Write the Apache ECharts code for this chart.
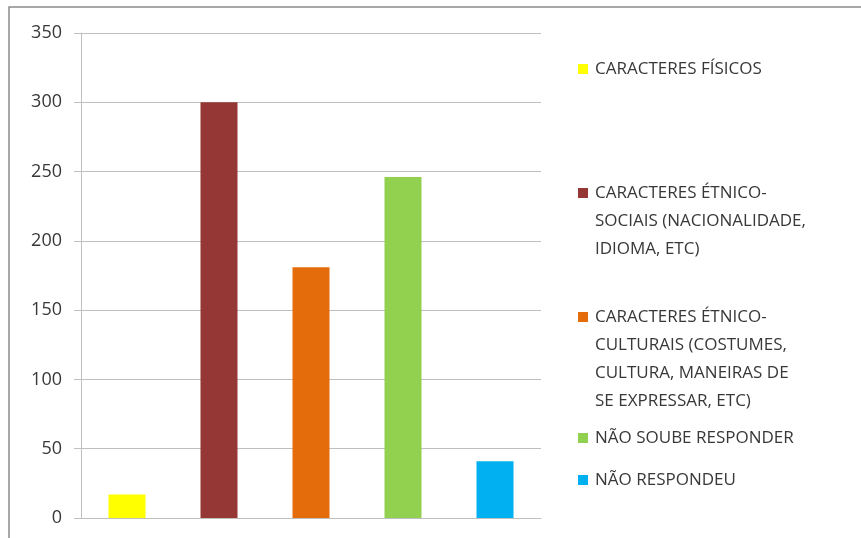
<!DOCTYPE html>
<html>
<head>
<meta charset="utf-8">
<script src="https://cdn.jsdelivr.net/npm/echarts@6/dist/echarts.min.js"></script>
<style>
  html, body { margin: 0; padding: 0; background: #fff; }
  #chart { width: 861px; height: 538px; }
</style>
</head>
<body>
<div id="chart"></div>
<script>
// categorias e valores
const categories = [
    'CARACTERES FÍSICOS',
    'CARACTERES ÉTNICO-SOCIAIS (NACIONALIDADE, IDIOMA, ETC)',
    'CARACTERES ÉTNICO-CULTURAIS (COSTUMES, CULTURA, MANEIRAS DE SE EXPRESSAR, ETC)',
    'NÃO SOUBE RESPONDER',
    'NÃO RESPONDEU'
];
const legendLines = [
    ['CARACTERES FÍSICOS'],
    ['CARACTERES ÉTNICO-', 'SOCIAIS (NACIONALIDADE,', 'IDIOMA, ETC)'],
    ['CARACTERES ÉTNICO-', 'CULTURAIS (COSTUMES,', 'CULTURA, MANEIRAS DE', 'SE EXPRESSAR, ETC)'],
    ['NÃO SOUBE RESPONDER'],
    ['NÃO RESPONDEU']
];
const values = [17, 300, 181, 246, 41];
const colors = ['#ffff00', '#953735', '#e46c0a', '#92d050', '#00b0f0'];
const yTicks = [0, 50, 100, 150, 200, 250, 300, 350];

// centro da primeira linha de cada item da legenda
const legendY = [69, 193, 317, 438, 480];
const lineH = 28;

const chart = echarts.init(document.getElementById('chart'));

const series = categories.map((name, i) => ({
    name: name,
    type: 'bar',
    stack: 'all',
    barWidth: 37,
    itemStyle: { color: colors[i] },
    data: values.map((v, j) => (j === i ? v : '-'))
}));

// o ícone fica no meio do bloco de texto, então põe linhas vazias em cima
// para que fique alinhado com a primeira linha
const legends = categories.map((name, i) => {
    const n = legendLines[i].length;
    const h = (2 * n - 1) * lineH;
    return {
        data: [name],
        left: 578,
        top: legendY[i] - h / 2,
        padding: 0,
        icon: 'rect',
        itemWidth: 10,
        itemHeight: 10,
        itemGap: 0,
        selectedMode: false,
        formatter: () => '\n'.repeat(n - 1) + legendLines[i].join('\n'),
        textStyle: {
            fontFamily: 'Open Sans',
            fontSize: 17,
            color: '#383838',
            lineHeight: lineH,
            padding: [0, 0, 0, 2]
        }
    };
});

chart.setOption({
    animation: false,
    graphic: [{
        type: 'polyline',
        shape: { points: [[9, 540], [9, 7], [870, 7]] },
        style: { stroke: '#8a8a8a', lineWidth: 1.5, fill: null }
    }],
    grid: { left: 81, top: 33, width: 460, height: 485 },
    legend: legends,
    xAxis: {
        type: 'category',
        data: categories,
        axisLine: { lineStyle: { color: '#bfbfbf', width: 1 } },
        axisTick: { show: false },
        axisLabel: { show: false }
    },
    yAxis: {
        type: 'value',
        min: yTicks[0],
        max: yTicks[yTicks.length - 1],
        interval: 50,
        axisLine: { show: true, lineStyle: { color: '#bfbfbf' } },
        axisTick: { show: true, length: 7, lineStyle: { color: '#bfbfbf' } },
        splitLine: { lineStyle: { color: '#bfbfbf' } },
        axisLabel: {
            margin: 19,
            fontFamily: 'Open Sans',
            fontSize: 18,
            color: '#383838'
        }
    },
    series: series
});
</script>
</body>
</html>
